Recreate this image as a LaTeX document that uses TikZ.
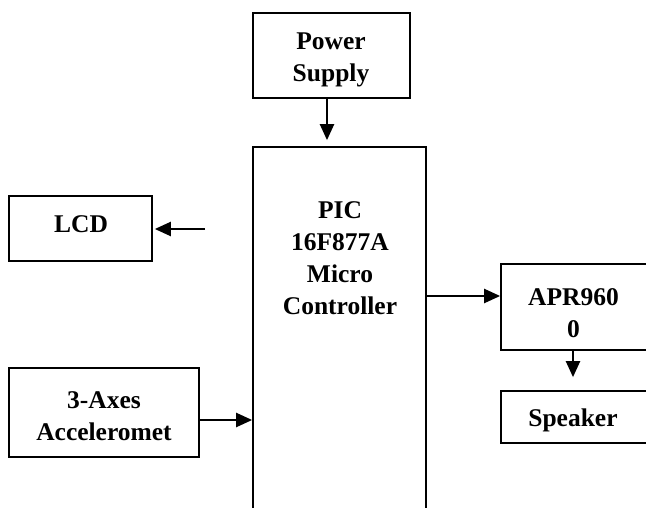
\documentclass[tikz,border=0pt]{standalone}
\usepackage{fontspec}
\setmainfont{Liberation Serif}
\usetikzlibrary{arrows.meta}
\begin{document}
\begin{tikzpicture}[x=1pt,y=-1pt,
  box/.style={draw=black,line width=1.7pt,rectangle,inner sep=0pt},
  lbl/.style={font=\fontsize{25.5}{32}\selectfont\bfseries,align=center,inner sep=0pt},
  arr/.style={line width=2.2pt,-{Triangle[length=16pt,width=14pt]}}]
\useasboundingbox (0,0) rectangle (646,508);
\clip (0,0) rectangle (646,508);
\fill[white] (0,0) rectangle (646,508);
% boxes
\node[box,minimum width=157pt,minimum height=85pt] (ps) at (331.5,55.5) {};
\node[box,minimum width=173pt,minimum height=413pt] (pic) at (339.5,353.5) {};
\node[box,minimum width=143pt,minimum height=65pt] (lcd) at (80.5,228.5) {};
\node[box,minimum width=190pt,minimum height=89pt] (acc) at (104,412.5) {};
\node[box,minimum width=149pt,minimum height=86pt] (apr) at (575.5,307) {};
\node[box,minimum width=149pt,minimum height=52pt] (spk) at (575.5,417) {};
% labels
\node[lbl] (tps) at (331,60) {Power\\Supply};
\node[lbl] (tpic) at (340,258) {PIC\\16F877A\\Micro\\Controller};
\node[lbl] (tlcd) at (81,224.5) {LCD};
\node[lbl] (tacc) at (104,416) {3-Axes\\Acceleromet};
\node[lbl] (tapr) at (573.5,313) {APR960\\0};
\node[lbl] (tspk) at (573,420.5) {Speaker};
% connector helpers
\coordinate (pwx) at (327,0);
\coordinate (lcdsrc) at (205,229);
\coordinate (accy) at (0,420);
\coordinate (apry) at (0,296);
\coordinate (spkx) at (573,0);
% connectors
\draw[arr,shorten >=6pt] (ps.south -| pwx) -- (pic.north -| pwx);
\draw[arr,shorten >=2pt] (lcdsrc) -- (lcdsrc -| lcd.east);
\draw[arr] (acc.east |- accy) -- (pic.west |- accy);
\draw[arr] (pic.east |- apry) -- (apr.west |- apry);
\draw[arr,shorten >=13pt] (apr.south -| spkx) -- (spk.north -| spkx);
\end{tikzpicture}
\end{document}
